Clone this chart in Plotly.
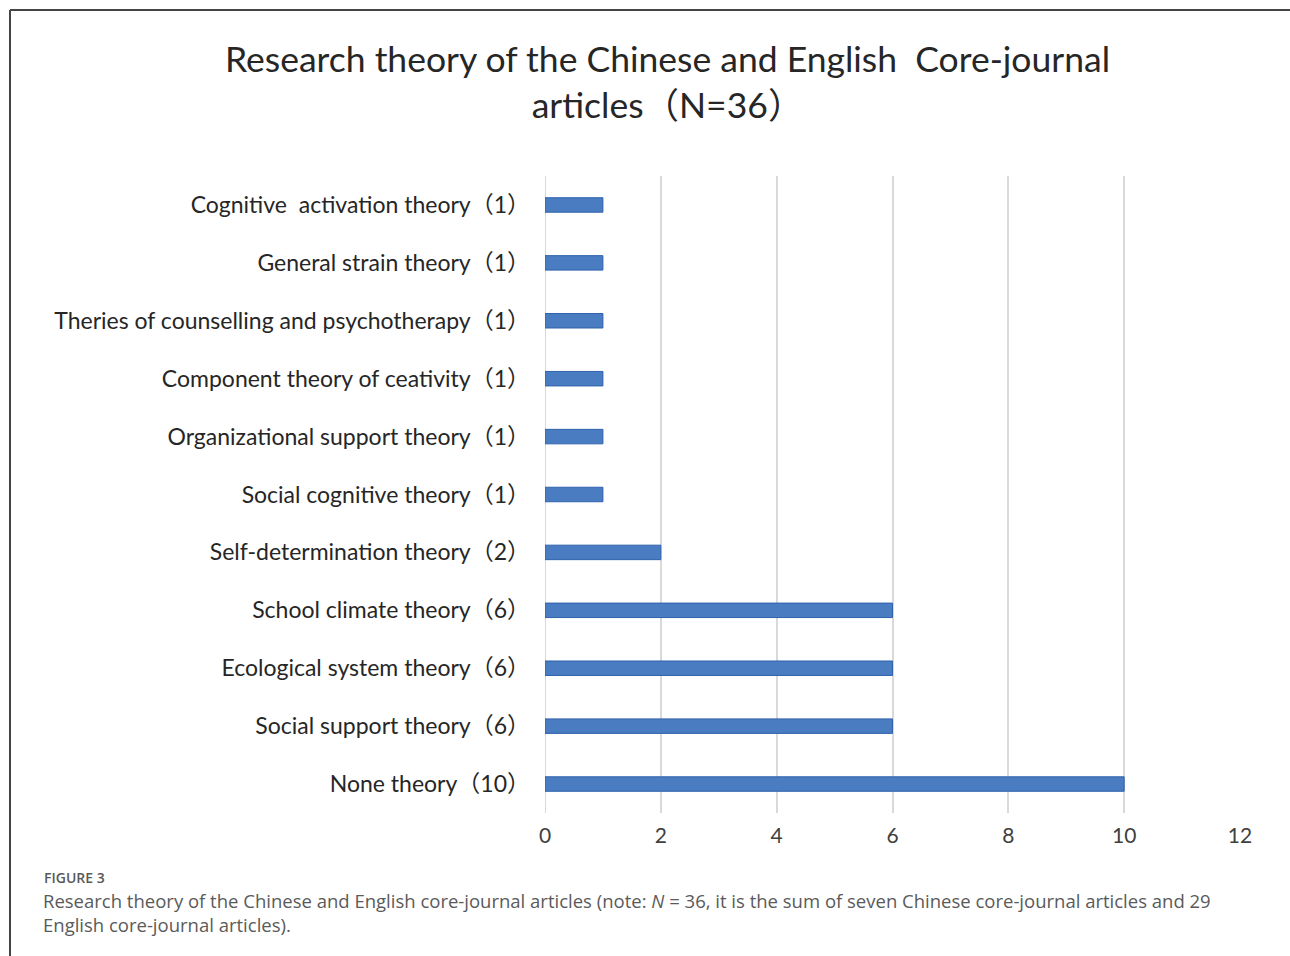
import plotly.graph_objects as go

categories = [
    "Cognitive  activation theory（1）",
    "General strain theory（1）",
    "Theries of counselling and psychotherapy（1）",
    "Component theory of ceativity（1）",
    "Organizational support theory（1）",
    "Social cognitive theory（1）",
    "Self-determination theory（2）",
    "School climate theory（6）",
    "Ecological system theory（6）",
    "Social support theory（6）",
    "None theory（10）",
]
values = [1, 1, 1, 1, 1, 1, 2, 6, 6, 6, 10]
x_ticks = [0, 2, 4, 6, 8, 10, 12]

W, H = 1290, 956
L, R, T, B = 545, 1240, 176, 813


def px(x):
    return (x - L) / (R - L)


def py(y):
    return (B - y) / (B - T)


fig = go.Figure()
fig.add_trace(go.Bar(
    y=categories,
    x=values,
    orientation="h",
    width=0.25,
    marker=dict(color="#4a7cc1", line=dict(color="#2f62ad", width=1)),
    hoverinfo="x+y",
))

main_font = "Lato, 'Noto Sans CJK SC', sans-serif"

fig.update_layout(
    width=W, height=H,
    margin=dict(l=L, r=W - R, t=T, b=H - B),
    paper_bgcolor="white",
    plot_bgcolor="white",
    showlegend=False,
    bargap=0.75,
    font=dict(family=main_font, color="#333333"),
)

fig.update_xaxes(
    range=[0, 12],
    tickvals=x_ticks,
    ticktext=[str(v) for v in x_ticks],
    showgrid=True, gridcolor="#d9d9d9", gridwidth=2,
    zeroline=False, showline=False,
    ticks="", ticklabelstandoff=8,
    tickfont=dict(size=21, color="#404040", family=main_font),
)
fig.update_yaxes(
    autorange="reversed",
    showgrid=False, zeroline=False, showline=False,
    ticks="", ticklabelstandoff=14,
    tickfont=dict(size=23, color="#262626", family=main_font),
)

# zero gridline
fig.add_shape(type="line", xref="x", yref="paper", x0=0, x1=0, y0=0, y1=1,
              line=dict(color="#d9d9d9", width=2), layer="below")

# Chart title
fig.add_annotation(
    xref="paper", yref="paper", x=px(667), y=py(82),
    text="Research theory of the Chinese and English  Core-journal<br>articles（N=36）",
    showarrow=False, xanchor="center", yanchor="middle", align="center",
    font=dict(size=35.5, color="#262626", family=main_font),
)

cap_font = "'Open Sans', 'Noto Sans', sans-serif"
fig.add_annotation(
    xref="paper", yref="paper", x=px(42), y=py(878),
    text="FIGURE 3", showarrow=False, xanchor="left", yanchor="middle",
    font=dict(size=14, color="#5a5a5a", family="'Open Sans SemiBold', 'Open Sans', sans-serif", weight=600),
)
fig.add_annotation(
    xref="paper", yref="paper", x=px(41), y=py(912),
    text=("Research theory of the Chinese and English core-journal articles (note: <i>N</i> = 36, "
          "it is the sum of seven Chinese core-journal articles and 29<br>English core-journal articles)."),
    showarrow=False, xanchor="left", yanchor="middle", align="left",
    font=dict(size=18.5, color="#5a5a5a", family=cap_font),
)

# Frame lines (top and left)
fig.add_shape(type="line", xref="paper", yref="paper", x0=px(10), x1=px(1290), y0=py(10), y1=py(10),
              line=dict(color="#444444", width=2))
fig.add_shape(type="line", xref="paper", yref="paper", x0=px(10), x1=px(10), y0=py(10), y1=py(956),
              line=dict(color="#444444", width=2))

fig.write_html("out.html", config={"displayModeBar": False},
               post_script="document.body.style.margin='0';")
